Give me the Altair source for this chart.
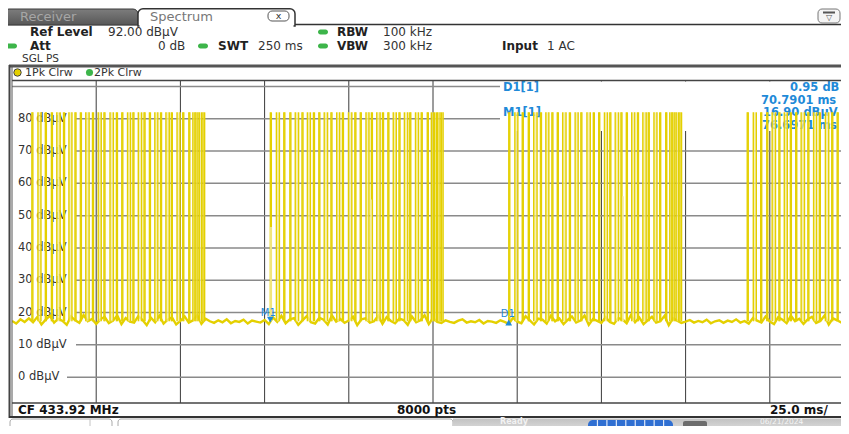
import altair as alt
import pandas as pd

# ---------------- chart data ----------------
SPAN_MS = 250.0            # 10 div x 25.0 ms/
REF_LEVEL = 92.0           # dBµV at top of grid
BOTTOM_LEVEL = -8.0
LEVEL_TICKS = [0, 10, 20, 30, 40, 50, 60, 70, 80]
GRID_LEVELS = [0, 10, 20, 30, 40, 50, 60, 70, 80, 90]
TIME_TICKS = [25, 50, 75, 100, 125, 150, 175, 200, 225]

# telegram bursts (start in ms) - the same code is repeated every ~70.8 ms
BURST_STARTS = [5.9, 76.7, 147.5, 218.3]
# pulses inside one burst: offset from burst start (ms) and pulse width (ms)
PULSE_OFFSETS = [0.0, 1.8, 4.0, 5.8, 7.4, 9.4, 11.0, 12.8, 14.4, 16.0, 18.0,
                 19.7, 21.4, 23.2, 25.1, 26.7, 28.4, 30.0, 31.6, 33.3, 34.9,
                 36.5, 38.2, 39.8, 41.4, 43.1, 44.8, 46.6, 47.8, 48.7, 49.7, 50.8]
PULSE_WIDTHS = [0.3, 0.9, 0.3, 0.3, 1.0, 0.3, 0.9, 0.3, 0.3, 1.0, 0.3,
                0.9, 0.3, 1.0, 0.3, 0.3, 0.9, 0.3, 1.0, 0.3, 0.3,
                0.9, 0.3, 1.0, 0.3, 0.9, 0.3, 0.3, 0.6, 0.6, 0.7, 0.5]
PULSE_TOP = 82.0
NOISE_FLOOR = 17.3
PARTIAL_T = [76.9, 106.6, 181.4]
PARTIAL_TOP = [46.5, 55.0, 56.0]

NOISE = [
    17.4, 16.6, 17.9, 17.1, 18.2,
    17.0, 18.6, 16.3, 17.8, 19.0, 16.9, 18.1, 17.4, 16.2, 18.8, 17.6, 16.8, 19.2, 17.3,
    18.0, 16.5, 17.9, 18.7, 16.7, 17.5, 19.1, 16.4, 18.3, 17.2, 16.9, 18.9, 17.7, 16.1,
    18.4, 17.0, 19.0, 16.6, 17.8, 18.5, 16.3, 17.4, 18.8, 16.9, 17.6, 19.2, 16.5, 18.1,
    17.3, 16.8, 17.6, 17.0, 17.9, 16.7, 17.4, 17.1, 17.8, 16.6, 17.5, 17.2, 16.9, 17.7,
    16.4, 18.5, 17.1, 19.0, 16.7, 17.9, 18.3, 16.2, 17.6, 18.9, 17.0, 16.6, 18.4, 17.8,
    16.3, 19.1, 17.2, 18.0, 16.8, 17.5, 18.7, 16.1, 17.9, 18.2, 16.9, 17.3, 19.0, 16.5,
    18.6, 17.4, 16.7, 18.1, 17.7, 16.2, 18.8, 17.0, 17.6, 19.2, 16.4, 18.3, 17.1, 16.8,
    17.6, 17.1, 16.8, 17.5, 17.9, 16.9, 17.3, 17.0, 17.7, 16.6, 17.4, 17.2, 16.8, 17.6, 17.1,
    16.5, 18.4, 17.2, 16.7, 18.9, 17.6, 16.3, 18.1, 17.8, 16.6, 19.0, 17.3, 18.2, 16.4,
    17.7, 18.8, 16.9, 17.5, 19.1, 16.2, 18.0, 17.4, 16.8, 18.6, 17.1, 16.5, 18.3, 17.9,
    16.7, 19.2, 17.0, 18.5, 16.4, 17.6, 18.7, 16.9, 17.3, 19.0, 16.1, 18.2, 17.5, 16.8,
    17.2, 17.7, 16.9, 17.4, 17.0, 17.8, 16.7, 17.3, 17.6, 16.8, 17.5, 17.1, 17.9, 16.9, 17.4,
    16.6, 18.3, 17.5, 16.9, 18.8, 17.2, 16.4, 18.6, 17.8, 16.7, 19.0, 17.3, 18.1, 16.5,
    17.9, 18.7, 16.8, 17.4, 19.1, 16.3, 18.2, 17.6, 16.9, 18.5, 17.1, 17.7,
]

MARKER_NAMES = ["M1", "D1"]
MARKER_T = [76.6971, 147.4872]
MARKER_LEVEL = [16.90, 17.85]

# ---------------- layout / style ----------------
FONT = "DejaVu Sans"
YELLOW = "#e4d000"
YELLOW_LIGHT = "#f3ea9c"
BLUE = "#1f8ad8"
GREEN = "#3db54a"
FULL_W = 842               # full 10-division grid width (page x 12..854)
PW, PH = 829, 323          # drawn plot area (window cuts the grid's right edge)
OX, OY = 12, 80            # page position of plot origin
VISIBLE_MS = SPAN_MS * PW / FULL_W

XS = alt.Scale(domain=[0, VISIBLE_MS], nice=False, zero=False)
YS = alt.Scale(domain=[BOTTOM_LEVEL, REF_LEVEL], nice=False, zero=False)
ONE = pd.DataFrame({"k": [0]})


def X(p):
    return p - OX


def Y(p):
    return p - OY


def rect(x1, y1, x2, y2, fill, stroke=None, sw=1.0, **kw):
    args = dict(fill=fill, **kw)
    if stroke:
        args.update(stroke=stroke, strokeWidth=sw)
    return alt.Chart(ONE).mark_rect(**args).encode(
        x=alt.value(X(x1)), x2=alt.value(X(x2)), y=alt.value(Y(y1)), y2=alt.value(Y(y2)))


def hline(x1, x2, y, color, w=1.0):
    return alt.Chart(ONE).mark_rule(color=color, strokeWidth=w).encode(
        x=alt.value(X(x1)), x2=alt.value(X(x2)), y=alt.value(Y(y)))


def vline(x, y1, y2, color, w=1.0):
    return alt.Chart(ONE).mark_rule(color=color, strokeWidth=w).encode(
        x=alt.value(X(x)), y=alt.value(Y(y1)), y2=alt.value(Y(y2)))


def label(x, y, text, size=12, bold=False, color="#222", align="left"):
    return alt.Chart(ONE).mark_text(
        text=text, align=align, baseline="middle", font=FONT, fontSize=size,
        fontWeight="bold" if bold else "normal", color=color).encode(
        x=alt.value(X(x)), y=alt.value(Y(y)))


def dot(x, y, color, size, stroke=None):
    args = dict(filled=True, fill=color, size=size, shape="circle", opacity=1)
    if stroke:
        args.update(stroke=stroke, strokeWidth=1)
    return alt.Chart(ONE).mark_point(**args).encode(x=alt.value(X(x)), y=alt.value(Y(y)))


layers = []

# ---- tab bar ----
layers += [
    hline(0, 138, 24.5, "#333", 1.5),
    hline(295, 849, 24.5, "#333", 1.5),
    rect(4, 9, 138, 25, alt.Gradient(gradient="linear", x1=0, x2=0, y1=0, y2=1,
                                     stops=[alt.GradientStop(color="#7d7d7d", offset=0),
                                            alt.GradientStop(color="#575757", offset=1)]),
         stroke="#3a3a3a", sw=1, cornerRadiusTopLeft=5, cornerRadiusTopRight=5),
    label(20, 16.5, "Receiver", 13, False, "#a6a6a6"),
    rect(138, 8.8, 295, 26, "white", stroke="#333", sw=1.5,
         cornerRadiusTopLeft=5, cornerRadiusTopRight=5),
    rect(139.5, 23.6, 293.5, 27, "white"),
    label(150, 16.5, "Spectrum", 13, False, "#777"),
    rect(268, 11, 289, 21, "white", stroke="#555", sw=1, cornerRadius=4),
    label(278.5, 15.5, "x", 9.5, False, "#333", "center"),
    rect(818, 9, 840, 23, "#f4f4f4", stroke="#777", sw=1, cornerRadius=4),
    rect(823, 11.5, 835, 13.5, "#555"),
    label(829, 18, "▽", 8, False, "#555", "center"),
]

# ---- header ----
layers += [
    label(30, 32, "Ref Level", 12, True), label(108, 32, "92.00 dBµV", 12, False, "#333"),
    rect(318, 29.5, 328, 34.5, GREEN, cornerRadius=2.5),
    label(337, 32, "RBW", 12, True), label(383, 32, "100 kHz", 12, False, "#333"),
    rect(6, 43.5, 17, 48.5, GREEN, cornerRadius=2.5),
    label(30, 46, "Att", 12, True), label(158, 46, "0 dB", 12, False, "#333"),
    rect(198, 43.5, 208, 48.5, GREEN, cornerRadius=2.5),
    label(218, 46, "SWT", 12, True), label(258, 46, "250 ms", 12, False, "#333"),
    rect(318, 43.5, 328, 48.5, GREEN, cornerRadius=2.5),
    label(337, 46, "VBW", 12, True), label(383, 46, "300 kHz", 12, False, "#333"),
    label(502, 46, "Input", 12, True), label(547, 46, "1 AC", 12, False, "#333"),
    label(22, 59, "SGL PS", 10.5, False, "#333"),
    hline(9, 849, 66, "#555", 3),
    dot(17.5, 72.5, YELLOW, 55, stroke="#444"),
    label(25, 72.5, "1Pk Clrw", 11, False, "#333"),
    dot(89.5, 72.5, GREEN, 50),
    label(94, 72.5, "2Pk Clrw", 11, False, "#333"),
]

# ---- grid ----
vgrid = alt.Chart(pd.DataFrame({"t": TIME_TICKS})).mark_rule(color="#3a3a3a", strokeWidth=1).encode(
    x=alt.X("t:Q", scale=XS, axis=None), y=alt.value(0), y2=alt.value(PH))
layers.append(vgrid)
for lv in GRID_LEVELS:
    start = 0 if lv == 90 else (55 if lv == 0 else 64)
    end = 488 if lv >= 80 else PW
    layers.append(
        alt.Chart(pd.DataFrame({"lv": [lv]})).mark_rule(color="#8a8a8a", strokeWidth=1.5).encode(
            y=alt.Y("lv:Q", scale=YS, axis=None), x=alt.value(start), x2=alt.value(end)))

# marker info box
layers += [
    rect(500, 81.5, 849, 131, "white"),
    label(503, 88, "D1[1]", 11.5, True, BLUE),
    label(790, 88, "0.95 dB", 11.5, True, BLUE),
    label(761, 100.5, "70.7901 ms", 11.5, True, BLUE),
    label(503, 113, "M1[1]", 11.5, True, BLUE),
    label(763, 113, "16.90 dBµV", 11.5, True, BLUE),
    label(762, 125.5, "76.6971 ms", 11.5, True, BLUE),
]

# level labels
lab_df = pd.DataFrame({"lv": LEVEL_TICKS, "txt": [f"{v} dBµV" for v in LEVEL_TICKS]})
layers.append(
    alt.Chart(lab_df).mark_text(align="left", baseline="middle", font=FONT, fontSize=11.5,
                                color="#333").encode(
        y=alt.Y("lv:Q", scale=YS, axis=None), x=alt.value(6), text="txt:N"))

# ---- trace ----
n = len(NOISE)
noise_df = pd.DataFrame({"t": [i * SPAN_MS / (n - 1) for i in range(n)], "v": NOISE})
noise_df = noise_df[noise_df.t <= VISIBLE_MS + 2]
layers.append(alt.Chart(noise_df).mark_line(color=YELLOW, strokeWidth=2.4, clip=True).encode(
    x=alt.X("t:Q", scale=XS, axis=None), y=alt.Y("v:Q", scale=YS, axis=None)))

rows, edges = [], []
for s in BURST_STARTS:
    for o, w in zip(PULSE_OFFSETS, PULSE_WIDTHS):
        t0 = s + o
        if t0 >= VISIBLE_MS:
            continue
        t1 = min(t0 + w, VISIBLE_MS)
        rows.append({"t0": t0, "t1": t1, "top": PULSE_TOP, "fl": NOISE_FLOOR})
        edges.append({"t": t0, "top": PULSE_TOP, "fl": NOISE_FLOOR})
        edges.append({"t": t1, "top": PULSE_TOP, "fl": NOISE_FLOOR})
pulse_df = pd.DataFrame(rows)
edge_df = pd.DataFrame(edges)
layers.append(alt.Chart(pulse_df).mark_rect(color=YELLOW_LIGHT, opacity=0.75).encode(
    x=alt.X("t0:Q", scale=XS, axis=None), x2="t1:Q",
    y=alt.Y("top:Q", scale=YS, axis=None), y2="fl:Q"))
layers.append(alt.Chart(edge_df).mark_rule(color=YELLOW, strokeWidth=1.4).encode(
    x=alt.X("t:Q", scale=XS, axis=None),
    y=alt.Y("top:Q", scale=YS, axis=None), y2="fl:Q"))
part_df = pd.DataFrame({"t": PARTIAL_T, "top": PARTIAL_TOP, "fl": [NOISE_FLOOR] * len(PARTIAL_T)})
layers.append(alt.Chart(part_df).mark_rule(color=YELLOW_LIGHT, strokeWidth=1.6).encode(
    x=alt.X("t:Q", scale=XS, axis=None),
    y=alt.Y("top:Q", scale=YS, axis=None), y2="fl:Q"))

# ---- markers ----
mk = pd.DataFrame({"name": MARKER_NAMES, "t": MARKER_T, "lv": MARKER_LEVEL})
m1 = mk[mk.name == "M1"]
d1 = mk[mk.name == "D1"]
layers += [
    alt.Chart(m1).mark_point(shape="triangle-down", filled=True, color=BLUE, size=45,
                             opacity=1, yOffset=-3).encode(
        x=alt.X("t:Q", scale=XS, axis=None), y=alt.Y("lv:Q", scale=YS, axis=None)),
    alt.Chart(m1).mark_text(font=FONT, fontSize=10, color=BLUE, baseline="middle",
                            yOffset=-10, dx=-2).encode(
        x=alt.X("t:Q", scale=XS, axis=None), y=alt.Y("lv:Q", scale=YS, axis=None), text="name:N"),
    alt.Chart(d1).mark_point(shape="triangle-up", filled=True, color=BLUE, size=45,
                             opacity=1, yOffset=3).encode(
        x=alt.X("t:Q", scale=XS, axis=None), y=alt.Y("lv:Q", scale=YS, axis=None)),
    alt.Chart(d1).mark_text(font=FONT, fontSize=10, color=BLUE, baseline="middle",
                            yOffset=-6, dx=-1).encode(
        x=alt.X("t:Q", scale=XS, axis=None), y=alt.Y("lv:Q", scale=YS, axis=None), text="name:N"),
]

# ---- frame / footer ----
layers += [
    hline(12, 849, 80.5, "#444", 1.5),
    vline(9.5, 65, 418, "#444", 2),
    vline(12, 67, 417, "#555", 1),
    hline(12, 849, 403, "#444", 1.5),
    hline(9, 849, 417, "#333", 2),
    label(18, 409.5, "CF 433.92 MHz", 12, True, "#111"),
    label(397, 409.5, "8000 pts", 12, True, "#111"),
    label(770, 409.5, "25.0 ms/", 12, True, "#111"),
    # status bar (the window cuts it at the bottom)
    rect(10, 419, 112, 434, "white", stroke="#aaa", sw=1, cornerRadius=3),
    vline(90, 419, 434, "#c4c4c4", 1),
    rect(118, 419, 453, 434, "white", stroke="#aaa", sw=1, cornerRadius=3),
    rect(453, 418.5, 849, 434, alt.Gradient(gradient="linear", x1=0, x2=0, y1=0, y2=1,
                                            stops=[alt.GradientStop(color="#c2c2c2", offset=0),
                                                   alt.GradientStop(color="#e4e4e4", offset=1)])),
    label(500, 421.5, "Ready", 8, True, "#f2f2f2"),
    rect(588, 420, 673, 430, "#2f6fd2", cornerRadius=5),
]
for k in range(1, 9):
    layers.append(vline(588 + k * 9.45, 420, 430, "#dfe8f8", 1.2))
layers += [
    rect(683, 421, 707, 428, "#6d6d6d", cornerRadius=2),
    label(760, 421.5, "06/21/2024", 7.5, False, "#f5f5f5"),
]

chart = alt.layer(*layers).properties(
    width=PW, height=PH,
    padding={"left": 4, "top": 72, "right": 0, "bottom": 23},
    autosize=alt.AutoSizeParams(type="none"),
    background="white",
).configure_view(stroke=None)

chart.save("out.html", embed_options={"renderer": "svg", "actions": False})
